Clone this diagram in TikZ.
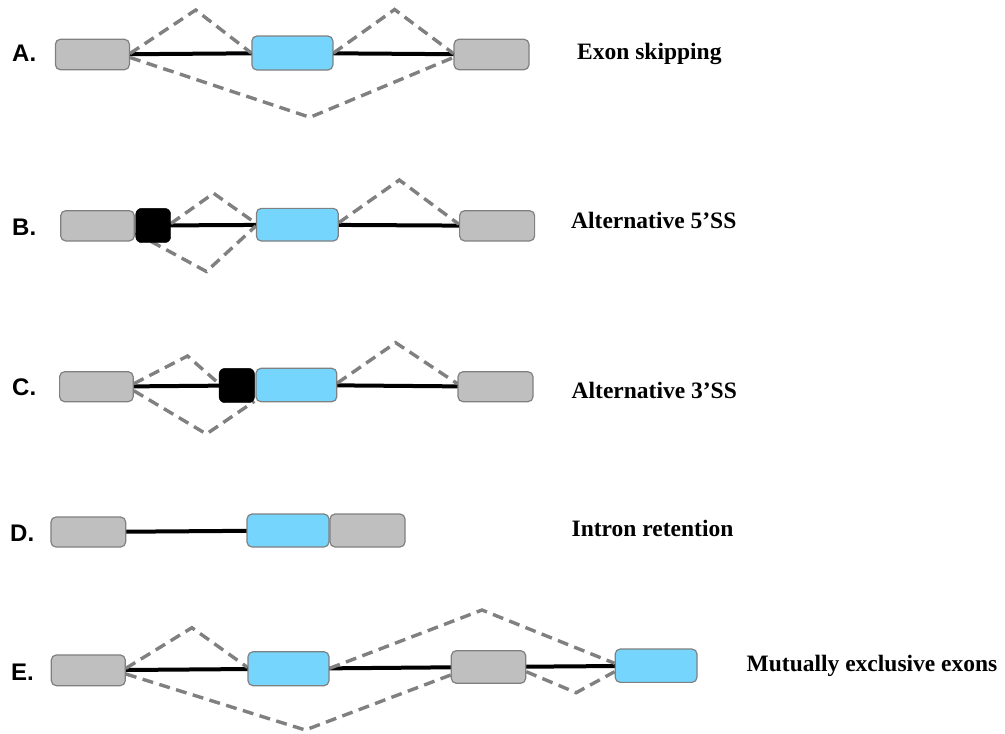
\documentclass[tikz,border=0pt]{standalone}
\usepackage{fontspec}
\setmainfont{Liberation Serif}
\newfontfamily\labfont{Liberation Sans}
\usetikzlibrary{backgrounds}
\definecolor{exongrey}{RGB}{191,191,191}
\definecolor{exonblue}{RGB}{117,213,253}
\definecolor{edgegrey}{RGB}{128,128,128}
\definecolor{dashgrey}{RGB}{128,128,128}
\tikzset{
  exon/.style={rectangle, rounded corners=5pt, draw=edgegrey, line width=1.2pt, inner sep=0pt},
  greyexon/.style={exon, fill=exongrey},
  blueexon/.style={exon, fill=exonblue},
  altexon/.style={rectangle, rounded corners=6pt, draw=black, fill=black, inner sep=0pt},
  intron/.style={line width=4pt, black},
  splice/.style={line width=3.4pt, dashgrey, dash pattern=on 11pt off 6.5pt, line join=miter},
  rowlabel/.style={anchor=base west, inner sep=0pt, font=\labfont\bfseries\fontsize{24}{28}\selectfont},
  eventlabel/.style={anchor=base west, inner sep=0pt, font=\bfseries\fontsize{23.5}{28}\selectfont}
}
\begin{document}
\begin{tikzpicture}[x=1pt,y=-1pt]
\useasboundingbox (0,0) rectangle (1005,734);

% ---------------- Row A ----------------
\node[rowlabel] (la) at (12,61.5) {A.};
\node[greyexon, minimum width=74pt, minimum height=30.5pt] (a1) at (92.4,54.5) {};
\node[blueexon, minimum width=81pt, minimum height=34pt] (a2) at (292.4,53) {};
\node[greyexon, minimum width=75pt, minimum height=30.5pt] (a3) at (491.5,54.5) {};
\coordinate (pA1) at (195.7,10);
\coordinate (pA2) at (394.6,9.5);
\coordinate (vA) at (310,117.3);
\node[eventlabel] (ta) at (577,59) {Exon skipping};

% ---------------- Row B ----------------
\node[rowlabel] (lb) at (12,235) {B.};
\node[greyexon, minimum width=73.6pt, minimum height=30.3pt] (b1) at (97.5,225.8) {};
\node[altexon, minimum width=35pt, minimum height=34.4pt] (bk) at (153.2,225.5) {};
\node[blueexon, minimum width=81.8pt, minimum height=32.7pt] (b2) at (297.3,224.7) {};
\node[greyexon, minimum width=75pt, minimum height=30.3pt] (b3) at (497.1,225.8) {};
\coordinate (pB1) at (213.6,193.3);
\coordinate (pB2) at (399.3,180);
\coordinate (vB) at (206.4,271.5);
\node[eventlabel] (tb) at (571,228) {Alternative 5’SS};

% ---------------- Row C ----------------
\node[rowlabel] (lc) at (12,395) {C.};
\node[greyexon, minimum width=73.6pt, minimum height=30pt] (c1) at (96.4,386.7) {};
\node[altexon, minimum width=35.6pt, minimum height=34.4pt] (ck) at (236.8,385.5) {};
\node[blueexon, minimum width=80.8pt, minimum height=33.4pt] (c2) at (296.4,385) {};
\node[greyexon, minimum width=75pt, minimum height=30pt] (c3) at (495.5,386.7) {};
\coordinate (pC1) at (187.5,356);
\coordinate (pC2) at (395.7,342.7);
\coordinate (vC) at (206.4,434);
\node[eventlabel] (tc) at (571.5,398.5) {Alternative 3’SS};

% ---------------- Row D ----------------
\node[rowlabel] (ld) at (10,541) {D.};
\node[greyexon, minimum width=74.7pt, minimum height=30pt] (d1) at (88.3,532) {};
\node[blueexon, minimum width=82pt, minimum height=33pt] (d2) at (288,530.5) {};
\node[greyexon, minimum width=75pt, minimum height=33pt] (d3) at (367.5,530.5) {};
\node[eventlabel] (td) at (571.5,536.5) {Intron retention};

% ---------------- Row E ----------------
\node[rowlabel] (le) at (11,680) {E.};
\node[greyexon, minimum width=74pt, minimum height=30.7pt] (e1) at (88.3,670.3) {};
\node[blueexon, minimum width=81pt, minimum height=34pt] (e2) at (288.5,668.7) {};
\node[greyexon, minimum width=74.4pt, minimum height=32.6pt] (e3) at (488.5,667) {};
\node[blueexon, minimum width=81.8pt, minimum height=33.3pt] (e4) at (656.1,665.7) {};
\coordinate (pE1) at (191.9,627.7);
\coordinate (pE2) at (482,610);
\coordinate (vE1) at (305.3,730);
\coordinate (vE2) at (576.2,692.7);
\node[eventlabel] (te) at (746.5,671) {Mutually exclusive exons};

% ---------------- connectors, behind the exons ----------------
\begin{pgfonlayer}{background}
% A
\draw[intron] (a1.center) -- (a2.center) -- (a3.center);
\draw[splice] ([yshift=1pt]a1.east) -- (pA1) -- (a2.west);
\draw[splice] (a2.east) -- (pA2) -- ([yshift=1pt]a3.west);
\draw[splice] ([yshift=-3pt]a1.east) -- (vA) -- ([yshift=-3pt]a3.west);
% B
\draw[intron] (bk.center) -- (b2.center) -- (b3.center);
\draw[splice] ([yshift=-7.5pt]bk.west) -- (vB) -- ([yshift=-1.3pt]b2.west);
\draw[splice] ([yshift=2pt]bk.east) -- (pB1) -- ([yshift=1.4pt]b2.west);
\draw[splice] ([yshift=2pt]b2.east) -- (pB2) -- ([yshift=1.5pt]b3.west);
% C
\draw[intron] (c1.center) -- (ck.center);
\draw[intron] (c2.center) -- (c3.center);
\draw[splice] ([yshift=3pt]c1.east) -- (pC1) -- ([yshift=2pt]ck.west);
\draw[splice] ([yshift=-4pt]c1.east) -- (vC) -- ([xshift=-1pt,yshift=1pt]c2.south west);
\draw[splice] ([yshift=2pt]c2.east) -- (pC2) -- ([yshift=3pt]c3.west);
% D
\draw[intron] (d1.center) -- (d2.center);
% E
\draw[intron] (e1.center) -- (e2.center) -- (e3.center) -- (e4.center);
\draw[splice] ([yshift=2pt]e1.east) -- (pE1) -- ([yshift=1.4pt]e2.west);
\draw[splice] ([yshift=-3.7pt]e1.east) -- (vE1) -- ([yshift=-8pt]e3.west);
\draw[splice] ([yshift=0.4pt]e2.east) -- (pE2) -- ([yshift=2.4pt]e4.west);
\draw[splice] ([yshift=-4.7pt]e3.east) -- (vE2) -- ([yshift=-6pt]e4.west);
\end{pgfonlayer}
\end{tikzpicture}
\end{document}
